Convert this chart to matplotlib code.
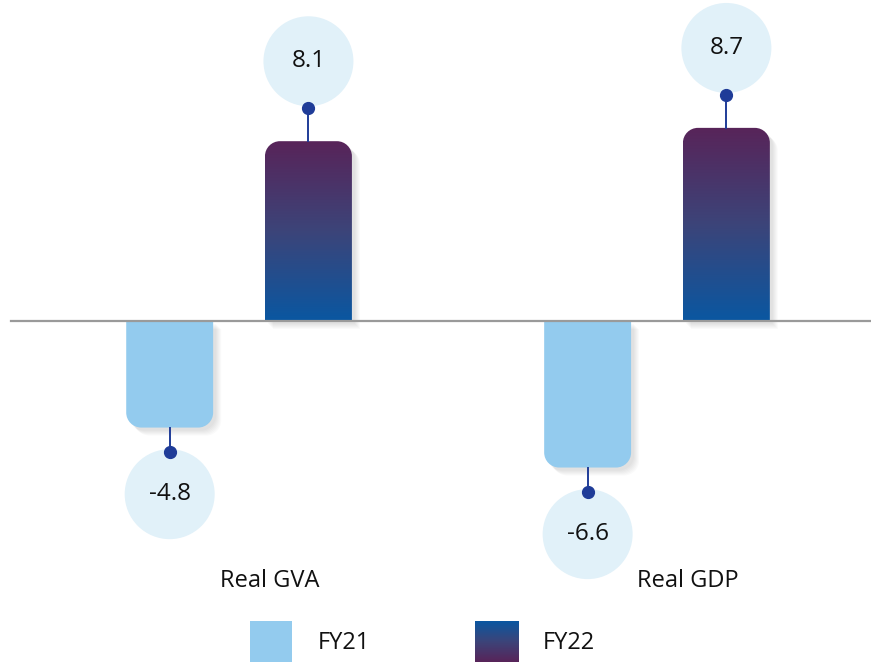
import numpy as np
import matplotlib
matplotlib.use("Agg")
import matplotlib.pyplot as plt
from matplotlib.path import Path
from matplotlib.patches import PathPatch, Rectangle
from matplotlib.colors import LinearSegmentedColormap

# ---- data ----
categories = ["Real GVA", "Real GDP"]
series_names = ["FY21", "FY22"]
fy21 = [-4.8, -6.6]
fy22 = [8.1, 8.7]

# ---- style ----
FONT = "Open Sans"
plt.rcParams["font.family"] = [FONT, "DejaVu Sans"]
c_fy21 = "#93cbee"
grad22 = LinearSegmentedColormap.from_list("g22", ["#0a57a1", "#3c4479", "#582459"])
circle_col = "#e1f1f9"
dot_col = "#1f3c98"
W, H = 871, 662

fig = plt.figure(figsize=(W / 100, H / 100), dpi=100)
ax = fig.add_axes([0, 0, 1, 1])
XL = (-0.572, 1.512)
YL = (-15.36, 14.46)
px_x = (XL[1] - XL[0]) / W
px_y = (YL[1] - YL[0]) / H

group_x = np.arange(len(categories))
offset = 0.166
width = 0.208
r_px = 15


def bar_path(xc, w, v):
    x0, x1 = xc - w / 2, xc + w / 2
    rx = r_px * px_x
    ry = r_px * px_y * np.sign(v)
    k = 0.5523
    verts = [
        (x0, 0), (x0, v - ry),
        (x0, v - ry + k * ry), (x0 + rx - k * rx, v), (x0 + rx, v),
        (x1 - rx, v),
        (x1 - rx + k * rx, v), (x1, v - ry + k * ry), (x1, v - ry),
        (x1, 0), (x0, 0),
    ]
    codes = [Path.MOVETO, Path.LINETO,
             Path.CURVE4, Path.CURVE4, Path.CURVE4,
             Path.LINETO,
             Path.CURVE4, Path.CURVE4, Path.CURVE4,
             Path.LINETO, Path.CLOSEPOLY]
    return Path(verts, codes)


def shadow(path):
    # soft shadow: several translucent, slightly offset copies
    for i in range(6):
        off = np.array([(3 + i) * px_x, -(3 + i) * px_y])
        p = Path(path.vertices + off, path.codes)
        ax.add_patch(PathPatch(p, facecolor="#000000", edgecolor="none",
                               alpha=0.018, zorder=1))


def label(xc, v):
    if v >= 0:
        dot_y, circ_y = v + 1.5, v + 3.6
    else:
        dot_y, circ_y = v - 1.1, v - 3.0
    ax.plot([xc, xc], [v, dot_y], color=dot_col, lw=1.4, zorder=3)
    ax.scatter([xc], [circ_y], s=(90 * 0.72) ** 2, color=circle_col,
               edgecolors="none", zorder=2)
    ax.plot([xc], [dot_y], marker="o", ms=8.5, color=dot_col, zorder=4)
    ax.text(xc, circ_y, f"{v:.1f}", ha="center", va="center",
            fontsize=17.5, color="#111111", zorder=5)


for gx, v21, v22 in zip(group_x, fy21, fy22):
    # FY21
    x21 = gx - offset
    p21 = bar_path(x21, width, v21)
    shadow(p21)
    ax.add_patch(PathPatch(p21, facecolor=c_fy21, edgecolor="none", zorder=2))
    label(x21, v21)
    # FY22 (gradient)
    x22 = gx + offset
    p22 = bar_path(x22, width, v22)
    shadow(p22)
    patch = PathPatch(p22, facecolor="none", edgecolor="none", zorder=2)
    ax.add_patch(patch)
    grad = np.linspace(1, 0, 256).reshape(-1, 1)
    im = ax.imshow(grad, cmap=grad22, aspect="auto", zorder=2,
                   extent=[x22 - width / 2, x22 + width / 2, 0, v22],
                   origin="upper", vmin=0, vmax=1)
    im.set_clip_path(patch)
    label(x22, v22)

# baseline
ax.plot([XL[0] + 11 * px_x, XL[1]], [0, 0], color="#9a9a9a", lw=1.6, zorder=3)

# category labels
for gx, cat in zip(group_x, categories):
    ax.text(gx + 0.074, -11.72, cat, ha="center", va="center",
            fontsize=17, color="#111111")

ax.set_xlim(*XL)
ax.set_ylim(*YL)
ax.axis("off")

# ---- legend ----
fig.patches.append(Rectangle((250 / W, 0), 42 / W, 41 / H, transform=fig.transFigure,
                             facecolor=c_fy21, edgecolor="none"))
lax = fig.add_axes([475 / W, 0, 43 / W, 41 / H])
lax.imshow(np.linspace(0, 1, 128).reshape(-1, 1), cmap=grad22, aspect="auto",
           origin="upper", vmin=0, vmax=1)
lax.axis("off")
fig.text(318 / W, (H - 643) / H, series_names[0], ha="left", va="center",
         fontsize=17, color="#111111")
fig.text(543 / W, (H - 643) / H, series_names[1], ha="left", va="center",
         fontsize=17, color="#111111")

fig.savefig("out.png", dpi=100, facecolor="white")
